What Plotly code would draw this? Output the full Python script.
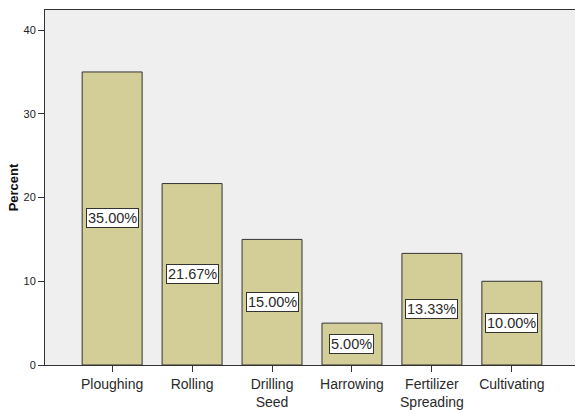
import plotly.graph_objects as go

categories = ["Ploughing", "Rolling", "Drilling<br>Seed", "Harrowing",
              "Fertilizer<br>Spreading", "Cultivating"]
percents = [35.00, 21.67, 15.00, 5.00, 13.33, 10.00]
y_ticks = [0, 10, 20, 30, 40]

FONT = "Liberation Sans, Arial, sans-serif"
BAR_FILL = "#d3ce98"
EDGE = "#333333"

fig = go.Figure(
    go.Bar(
        x=categories,
        y=percents,
        width=0.75,
        marker=dict(color=BAR_FILL, line=dict(color=EDGE, width=1)),
        hoverinfo="x+y",
    )
)

# value labels in white boxes at mid-height of each bar
for cat, val in zip(categories, percents):
    fig.add_annotation(
        x=cat,
        y=val / 2,
        text=f"{val:.2f}%",
        showarrow=False,
        font=dict(family=FONT, size=14.5, color="#2a2a2a"),
        bgcolor="white",
        bordercolor=EDGE,
        borderwidth=1,
        borderpad=1,
    )

fig.update_xaxes(
    type="category",
    range=[-0.84, 5.79],
    automargin=False,
    showline=True,
    linecolor=EDGE,
    linewidth=1,
    mirror=True,
    ticks="outside",
    ticklen=6,
    tickcolor=EDGE,
    tickfont=dict(family=FONT, size=14, color="#2a2a2a"),
    showgrid=False,
)
fig.update_yaxes(
    range=[0, 42.4],
    tickvals=y_ticks,
    automargin=False,
    showline=True,
    linecolor=EDGE,
    linewidth=1,
    mirror=True,
    ticks="outside",
    ticklen=6,
    tickcolor=EDGE,
    tickfont=dict(family=FONT, size=11, color="#222222"),
    showgrid=False,
    zeroline=False,
    title=dict(text="<b>Percent</b>", font=dict(family=FONT, size=13, color="#111111"),
               standoff=1),
)
fig.update_layout(
    width=575,
    height=410,
    margin=dict(l=45, r=0, t=10, b=45),
    plot_bgcolor="#efefef",
    paper_bgcolor="white",
    showlegend=False,
    font=dict(family=FONT),
)

# drop the browser's default body margin so the figure sits at the page corner
fig.write_html(
    "out.html",
    config={"displayModeBar": False},
    post_script="document.body.style.margin = '0';",
)
